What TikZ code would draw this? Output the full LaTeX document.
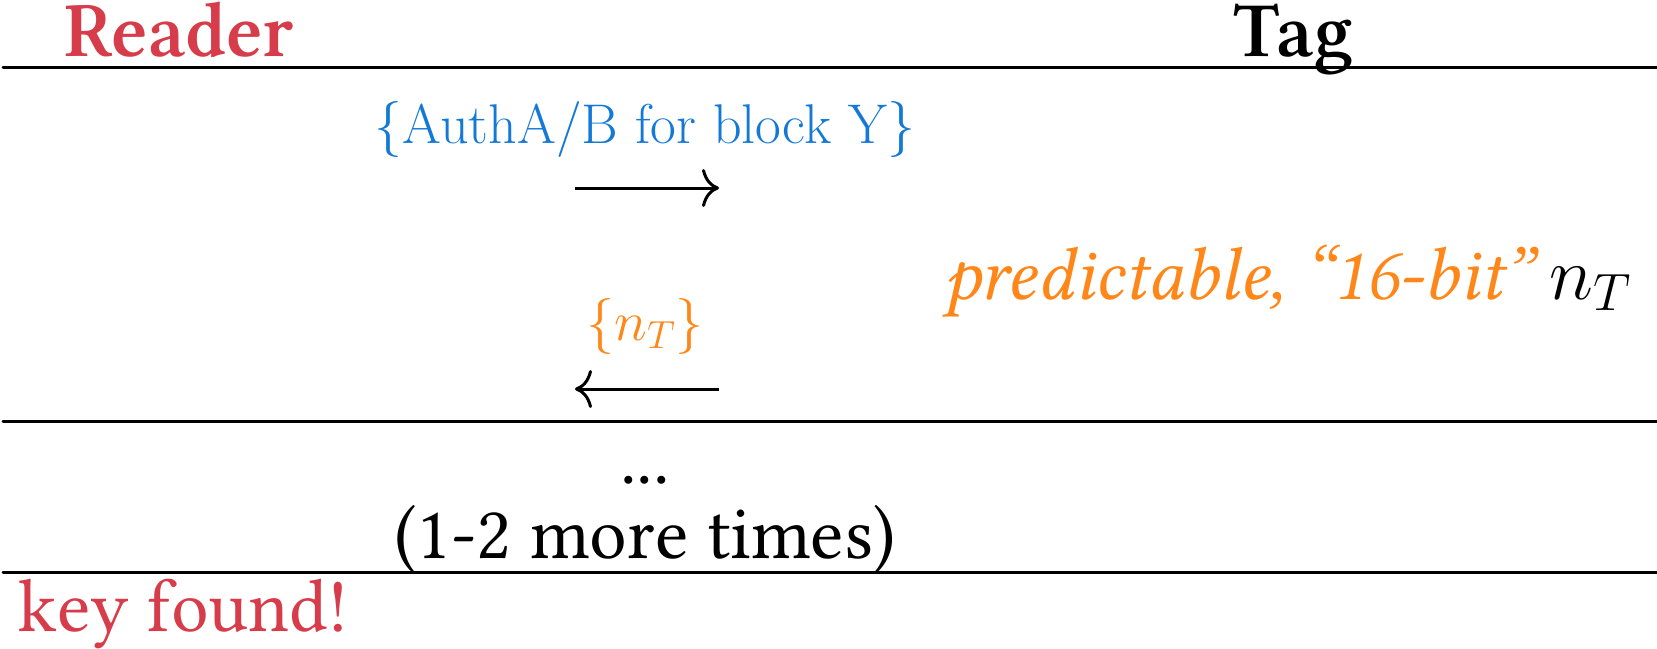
\RequirePackage{fix-cm}
\documentclass[tikz,border=0pt]{standalone}
\usepackage{amsmath}
\usepackage[no-math]{fontspec}
\IfFontExistsTF{Linux Libertine O}{\setmainfont{Linux Libertine O}}{%
  \IfFontExistsTF{Libertinus Serif}{\setmainfont{Libertinus Serif}}{\setmainfont{Liberation Serif}}}
\newfontfamily\lmfont{Latin Modern Roman}
\usetikzlibrary{arrows.meta}
\definecolor{rdr}{RGB}{215,60,75}
\definecolor{lblue}{RGB}{20,120,215}
\definecolor{orng}{RGB}{255,135,25}
\DeclareMathSizes{75}{75}{52.5}{37.5}
\DeclareMathSizes{56}{56}{39.2}{28}
\tikzset{
  rule/.style={line width=3pt, line cap=round},
  msgarrow/.style={line width=3pt, -{Computer Modern Rightarrow[length=17pt,width=38pt]}},
  txt/.style={inner sep=0pt, outer sep=0pt},
  bigfont/.style={font=\fontsize{75}{75}\selectfont},
  headfont/.style={font=\fontsize{78}{78}\selectfont\bfseries},
  lblfont/.style={font=\fontsize{56}{56}\selectfont},
}
\begin{document}
\begin{tikzpicture}[x=1pt,y=-1pt]
\useasboundingbox (0,0) rectangle (1657,648);
% headers
\node[txt, headfont, text=rdr, anchor=base] (reader) at (179,56) {Reader};
\node[txt, headfont, anchor=base] (tag) at (1293,56) {Tag};
% rules
\coordinate (r1w) at (3,67);  \coordinate (r1e) at (1657,67);
\coordinate (r2w) at (3,421); \coordinate (r2e) at (1657,421);
\coordinate (r3w) at (3,572); \coordinate (r3e) at (1657,572);
\draw[rule] (r1w) -- (r1e);
\draw[rule] (r2w) -- (r2e);
\draw[rule] (r3w) -- (r3e);
% first message
\node[txt, lblfont, text=lblue, anchor=base] (auth) at (645,143) {\lmfont\{AuthA/B for block Y\}};
\coordinate (ra1) at (575,188); \coordinate (ra2) at (719,188);
\draw[msgarrow] (ra1) -- (ra2);
% note
\node[txt, bigfont, anchor=base west] (pred) at (944,299) {{\color{orng}\itshape predictable, “16-bit”} $n_T$};
% second message
\node[txt, lblfont, text=orng, anchor=base] (nt) at (645,340) {$\{n_T\}$};
\coordinate (la1) at (719,389); \coordinate (la2) at (575,389);
\draw[msgarrow] (la1) -- (la2);
% repetition
\node[txt, bigfont, anchor=base] (dots) at (645,483) {...};
\node[txt, bigfont, anchor=base] (more) at (645,558) {(1-2 more times)};
% result
\node[txt, bigfont, text=rdr, anchor=base west] (found) at (19,631) {key found!};
\end{tikzpicture}
\end{document}
